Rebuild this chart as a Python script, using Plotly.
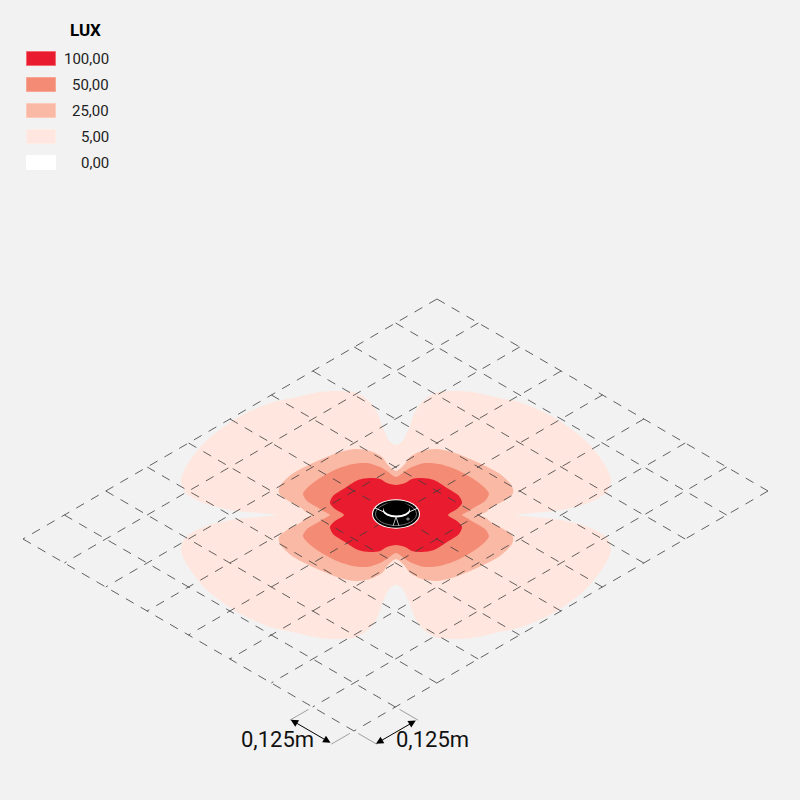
import plotly.graph_objects as go

# Legend
legend_labels = ["100,00", "50,00", "25,00", "5,00", "0,00"]
legend_colors = ["#E81C2E", "#F48B74", "#FAB9A5", "#FFE6DE", "#FFFFFF"]
legend_borders = ["#F46A72", "#F8A593", "#FCCBBB", "#FFEDE7", "#FFFFFF"]
legend_y = [58.5, 84.5, 110.5, 136.5, 162.5]

# Grid definition: cell counts and metres per cell
cells_u = 10
cells_v = 8
cell_size_label = "0,125m"

# Isolux outlines: upper-left quadrant, offsets from luminaire
q5_dx = [0, -6, -13, -19, -26, -39, -56, -76, -99, -126, -159, -189, -209, -215, -211, -199, -183, -159, -136, -120]
q5_dy = [-70, -73, -87, -103, -113, -122, -124, -123, -118, -112, -97, -75, -50, -35, -23, -15, -9, -4, -2, 0]
q25_dx = [0, -8, -14, -26, -41, -59, -83, -104, -116, -117, -109, -96, -90, -84]
q25_dy = [-44, -50, -58, -64, -66, -62, -52, -41, -29, -22, -15, -8, -3, 0]
q50_dx = [0, -9, -16, -29, -43, -59, -76, -89, -93, -89, -79, -71, -66]
q50_dy = [-38, -44, -48, -52, -51, -46, -37, -27, -21, -14, -8, -3, 0]
q100_dx = [0, -9, -16, -26, -38, -51, -63, -66, -61, -54, -52]
q100_dy = [-30, -32, -36, -37, -35, -27, -19, -12, -6, -2, 0]

CX, CY = 396, 515
TOP, RIGHT, LEFT = (437, 299), (768, 491), (23, 539)


def closed(dx, dy):
    xs = [CX + a for a in dx]
    ys = [CY + b for b in dy]
    xs += [CX + a for a in reversed(dx[:-1])]
    ys += [CY - b for b in reversed(dy[:-1])]
    xs += [CX - a for a in dx[1:]]
    ys += [CY - b for b in dy[1:]]
    xs += [CX - a for a in reversed(dx[:-1])]
    ys += [CY + b for b in reversed(dy[:-1])]
    return xs, ys


def grid_xy(u, v):
    x = TOP[0] + (LEFT[0] - TOP[0]) * u / cells_u + (RIGHT[0] - TOP[0]) * v / cells_v
    y = TOP[1] + (LEFT[1] - TOP[1]) * u / cells_u + (RIGHT[1] - TOP[1]) * v / cells_v
    return x, y


fig = go.Figure()

for (dx, dy, col) in [(q5_dx, q5_dy, legend_colors[3]), (q25_dx, q25_dy, legend_colors[2]),
                      (q50_dx, q50_dy, legend_colors[1]), (q100_dx, q100_dy, legend_colors[0])]:
    xs, ys = closed(dx, dy)
    fig.add_trace(go.Scatter(x=xs, y=ys, mode="lines", fill="toself", fillcolor=col,
                             line=dict(color=col, width=0, shape="spline", smoothing=0.8), hoverinfo="skip"))

# Grid
for i in range(cells_u + 1):
    a, b = grid_xy(i, 0), grid_xy(i, cells_v)
    fig.add_trace(go.Scatter(x=[a[0], b[0]], y=[a[1], b[1]], mode="lines",
                             line=dict(color="#3c3c3c", width=0.8, dash="9px,8px"), hoverinfo="skip"))
for j in range(cells_v + 1):
    a, b = grid_xy(0, j), grid_xy(cells_u, j)
    fig.add_trace(go.Scatter(x=[a[0], b[0]], y=[a[1], b[1]], mode="lines",
                             line=dict(color="#3c3c3c", width=0.8, dash="9px,8px"), hoverinfo="skip"))

# Dimension extension lines
ext = [((9, 8.1), (9, 8.55)), ((10, 8.1), (10, 8.55)), ((10.1, 8), (10.55, 8)), ((10.1, 7), (10.55, 7))]
for s, e in ext:
    a, b = grid_xy(*s), grid_xy(*e)
    fig.add_trace(go.Scatter(x=[a[0], b[0]], y=[a[1], b[1]], mode="lines",
                             line=dict(color="#8a8a8a", width=0.8), hoverinfo="skip"))

annotations = []
for s, e in [((9, 8.53), (10, 8.53)), ((10.53, 8), (10.53, 7))]:
    a, b = grid_xy(*s), grid_xy(*e)
    annotations.append(dict(x=b[0], y=b[1], ax=a[0], ay=a[1], xref="x", yref="y", axref="x", ayref="y",
                            text="", showarrow=True, arrowhead=2, arrowside="end+start",
                            arrowsize=1.5, arrowwidth=1, arrowcolor="#000000"))
annotations.append(dict(x=316, y=739, text=cell_size_label, xref="x", yref="y", xanchor="right", yanchor="middle",
                        showarrow=False, font=dict(family="Roboto", size=22, color="#111111")))
annotations.append(dict(x=394, y=739, text=cell_size_label, xref="x", yref="y", xanchor="left", yanchor="middle",
                        showarrow=False, font=dict(family="Roboto", size=22, color="#111111")))

# Legend
annotations.append(dict(x=85, y=30, text="<b>LUX</b>", xref="x", yref="y", xanchor="center", yanchor="middle",
                        showarrow=False, font=dict(family="Roboto", size=17, color="#000000")))
shapes = []
for lab, col, bor, y in zip(legend_labels, legend_colors, legend_borders, legend_y):
    shapes.append(dict(type="rect", xref="x", yref="y", x0=26.5, x1=55.5, y0=y - 7, y1=y + 7,
                       fillcolor=col, line=dict(color=bor, width=1)))
    annotations.append(dict(x=111, y=y + 0.7, text=lab, xref="x", yref="y", xanchor="right", yanchor="middle",
                            showarrow=False, font=dict(family="Roboto", size=15, color="#222222")))


def ell(cx, cy, rx, ry, fill, line=None, w=0):
    return dict(type="circle", xref="x", yref="y", x0=cx - rx, x1=cx + rx, y0=cy - ry, y1=cy + ry,
                fillcolor=fill, line=dict(color=line or fill, width=w), layer="above")


def seg(x0, y0, x1, y1, col="#ffffff", w=0.9):
    return dict(type="line", xref="x", yref="y", x0=x0, x1=x1, y0=y0, y1=y1,
                line=dict(color=col, width=w), layer="above")


# Luminaire
shapes += [
    ell(396, 514, 24, 14.7, "#ffffff"),
    ell(396, 514, 23, 13.8, "#000000"),
    ell(396, 514, 20.5, 11.5, "rgba(0,0,0,0)", "#9a9a9a", 0.7),
    ell(396.5, 510.5, 13.5, 7, "#ffffff"),
    ell(396.5, 508.5, 13, 7, "#000000"),
    seg(384, 512, 375, 508), seg(409, 512, 418, 508),
    seg(396, 517, 393, 526, "#c8c8c8"), seg(396, 517, 399, 526, "#c8c8c8"),
    ell(408, 519, 1.3, 1, "#000000", "#ffffff", 0.6),
]

fig.update_layout(
    width=800, height=800, autosize=False, margin=dict(l=0, r=0, t=0, b=0),
    paper_bgcolor="#F2F2F2", plot_bgcolor="#F2F2F2", showlegend=False,
    xaxis=dict(range=[0, 800], visible=False, fixedrange=True),
    yaxis=dict(range=[800, 0], visible=False, fixedrange=True),
    annotations=annotations, shapes=shapes,
)
fig.write_html("out.html", config={"displayModeBar": False},
               post_script="document.body.style.margin='0';document.documentElement.style.overflow='hidden';")
